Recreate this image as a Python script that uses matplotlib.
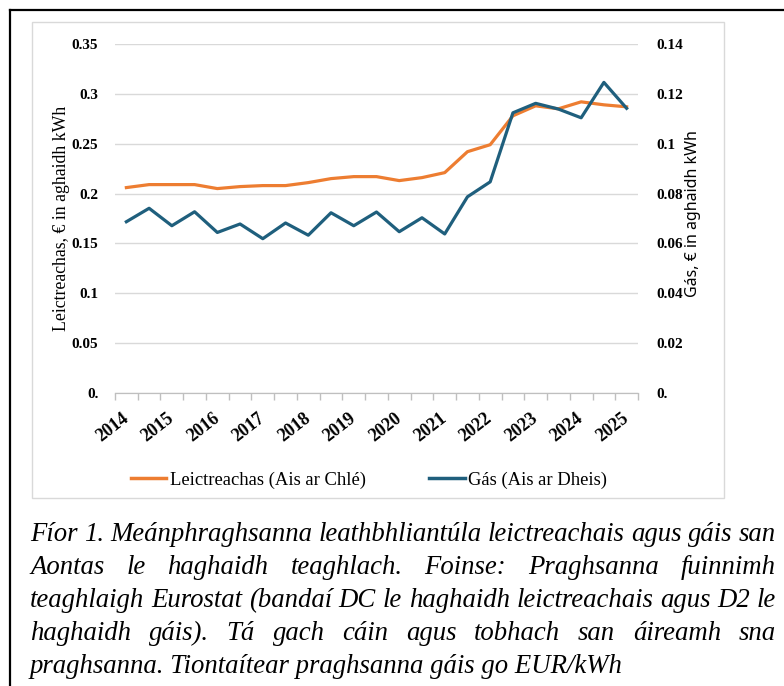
import matplotlib
matplotlib.use("Agg")
import matplotlib.pyplot as plt
import numpy as np
from matplotlib.lines import Line2D
from matplotlib.patches import Rectangle

plt.rcParams['font.family'] = 'Liberation Serif'

# half-yearly points, 2014S1 .. 2025S1
years = ['2014', '2015', '2016', '2017', '2018', '2019', '2020', '2021', '2022', '2023', '2024', '2025']
elec = [0.206, 0.209, 0.209, 0.209, 0.205, 0.207, 0.208, 0.208, 0.211, 0.215, 0.217, 0.217,
        0.213, 0.216, 0.221, 0.242, 0.249, 0.278, 0.288, 0.285, 0.292, 0.289, 0.287]
gas = [0.0687, 0.0741, 0.0671, 0.0727, 0.0644, 0.0678, 0.0619, 0.0682, 0.0633, 0.0723, 0.0671, 0.0726,
       0.0647, 0.0703, 0.0638, 0.0787, 0.0847, 0.1124, 0.1162, 0.1139, 0.1104, 0.1246, 0.1142]
left_ticks = ['0.', '0.05', '0.1', '0.15', '0.2', '0.25', '0.3', '0.35']
right_ticks = ['0.', '0.02', '0.04', '0.06', '0.08', '0.1', '0.12', '0.14']
elec_label = 'Leictreachas (Ais ar Chlé)'
gas_label = 'Gás (Ais ar Dheis)'
caption = ['Fíor 1. Meánphraghsanna leathbhliantúla leictreachais agus gáis san',
           'Aontas le haghaidh teaghlach. Foinse: Praghsanna fuinnimh',
           'teaghlaigh Eurostat (bandaí DC le haghaidh leictreachais agus D2 le',
           'haghaidh gáis). Tá gach cáin agus tobhach san áireamh sna',
           'praghsanna. Tiontaítear praghsanna gáis go EUR/kWh']

W, H = 784, 686
ORANGE = '#ED7D31'
BLUE = '#1F5F7D'
GRID = '#D9D9D9'

fig = plt.figure(figsize=(W/100, H/100), dpi=100)

# outer black frame (left + top edges visible) and grey chart box
fig.add_artist(Line2D([10/W, 10/W], [0, 1-10/H], color='black', lw=1.6))
fig.add_artist(Line2D([10/W, 1], [1-10/H, 1-10/H], color='black', lw=1.6))
fig.add_artist(Rectangle((32/W, 1-498/H), (724-32)/W, (498-22)/H, fill=False,
                         edgecolor=GRID, lw=1.0))

ax = fig.add_axes([115/W, 1-393/H, (638-115)/W, (393-44)/H])
ax2 = ax.twinx()
x = np.arange(len(elec))

ax.plot(x, elec, color=ORANGE, lw=2.3, solid_joinstyle='round', zorder=3)
ax2.plot(x, gas, color=BLUE, lw=2.3, solid_joinstyle='round', zorder=3)

ax.set_xlim(-0.5, len(elec)-0.5)
ax.set_ylim(0, 0.35)
ax2.set_ylim(0, 0.14)

ax.set_yticks(np.linspace(0, 0.35, 8))
ax.set_yticklabels(left_ticks, fontweight='bold', fontsize=11)
ax2.set_yticks(np.linspace(0, 0.14, 8))
ax2.set_yticklabels(right_ticks, fontweight='bold', fontsize=11)
ax.tick_params(axis='y', length=0, pad=12)
ax2.tick_params(axis='y', length=0, pad=13)
ax.yaxis.grid(True, color=GRID, lw=1.0)
ax.set_axisbelow(True)

ax.set_xticks(np.arange(0, len(elec), 2))
ax.set_xticklabels(years, fontweight='bold', fontsize=13, rotation=38,
                   ha='right', va='center', rotation_mode='anchor')
ax.set_xticks(np.arange(-0.5, len(elec), 1), minor=True)
ax.tick_params(axis='x', which='major', length=0, pad=17)
ax.tick_params(axis='x', which='minor', length=5, color='#BFBFBF', width=1)

for a in (ax, ax2):
    for s in ('left', 'right', 'top'):
        a.spines[s].set_visible(False)
    a.spines['bottom'].set_color('#BFBFBF')

fig.text(62/W, 1-218/H, 'Leictreachas, € in aghaidh kWh', rotation=90,
         ha='center', va='center', fontsize=12.8)
fig.text(693/W, 1-214/H, 'Gás, € in aghaidh kWh', rotation=90,
         ha='center', va='center', fontsize=11.5, family='Noto Sans')

handles = [Line2D([], [], color=ORANGE, lw=2.5), Line2D([], [], color=BLUE, lw=2.5)]
fig.legend(handles, [elec_label, gas_label], loc='center', bbox_to_anchor=(369/W, 1-480/H),
           ncol=2, frameon=False, fontsize=13.4, handlelength=1.9, handletextpad=0.2,
           columnspacing=3.4)

# caption, justified except last line
renderer = fig.canvas.get_renderer()
x0, x1 = 30, 776
cap_size = 19.3
for i, line in enumerate(caption):
    yb = 1 - (541 + 33*i)/H
    if i == len(caption) - 1:
        fig.text(x0/W, yb, line, fontsize=cap_size, style='italic', va='baseline')
        continue
    words = line.split()
    texts = [fig.text(0, yb, w, fontsize=cap_size, style='italic', va='baseline') for w in words]
    widths = [t.get_window_extent(renderer).width for t in texts]
    gap = (x1 - x0 - sum(widths)) / (len(words) - 1)
    pos = x0
    for t, w in zip(texts, widths):
        t.set_x(pos/W)
        pos += w + gap

fig.savefig('out.png', dpi=100)
